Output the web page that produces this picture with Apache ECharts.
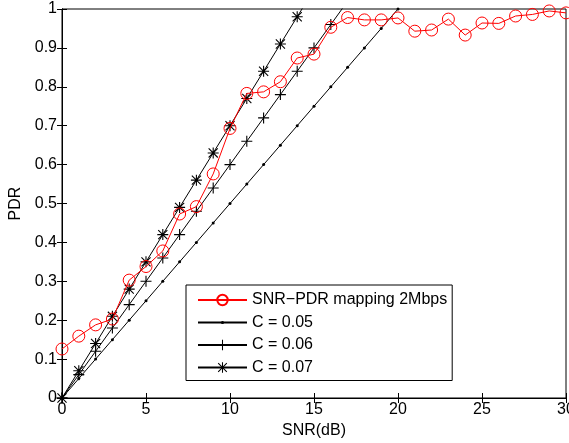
<!DOCTYPE html>
<html>
<head>
<meta charset="utf-8">
<script src="https://cdn.jsdelivr.net/npm/echarts@6/dist/echarts.min.js"></script>
<style>
	html, body { margin: 0; padding: 0; background: #fff; }
	#chart { width: 569px; height: 443px; }
</style>
</head>
<body>
<div id="chart"></div>
<script>
// SNR (dB) at which each point is measured
const snr = [0, 1, 2, 3, 4, 5, 6, 7, 8, 9, 10, 11, 12, 13, 14, 15, 16, 17, 18, 19, 20,
	21, 22, 23, 24, 25, 26, 27, 28, 29, 30]
// measured SNR-PDR mapping, 2Mbps
const pdrMeasured = [0.126, 0.159, 0.188, 0.203, 0.303, 0.338, 0.378, 0.473, 0.492, 0.576, 0.693,
	0.783, 0.787, 0.813, 0.874, 0.884, 0.953, 0.978, 0.972, 0.972, 0.977,
	0.943, 0.946, 0.974, 0.933, 0.964, 0.963, 0.982, 0.986, 0.995, 0.99]
// linear models, PDR = C * SNR (clipped by the axis at 1)
const pdrC005 = [0, 0.05, 0.10, 0.15, 0.20, 0.25, 0.30, 0.35, 0.40, 0.45, 0.50,
	0.55, 0.60, 0.65, 0.70, 0.75, 0.80, 0.85, 0.90, 0.95, 1.00]
const pdrC006 = [0, 0.06, 0.12, 0.18, 0.24, 0.30, 0.36, 0.42, 0.48, 0.54, 0.60,
	0.66, 0.72, 0.78, 0.84, 0.90, 0.96, 1.02]
const pdrC007 = [0, 0.07, 0.14, 0.21, 0.28, 0.35, 0.42, 0.49, 0.56, 0.63, 0.70,
	0.77, 0.84, 0.91, 0.98, 1.05]
const seriesNames = ['SNR\u2212PDR mapping 2Mbps', 'C = 0.05', 'C = 0.06', 'C = 0.07']

// small dot padded inside a 10x10 box so it keeps its size in the legend too
const dotSymbol = 'path://M0,0M10,10M3.5,5a1.5,1.5 0 1,0 3,0a1.5,1.5 0 1,0 -3,0z'
const plusSymbol = 'path://M0,4.5h10v1h-10zM4.5,0h1v10h-1z'
const starSymbol = 'path://M0,4.5h10v1h-10zM4.5,0h1v10h-1zM1.2,0.5L9.5,8.8L8.8,9.5L0.5,1.2zM8.8,0.5L9.5,1.2L1.2,9.5L0.5,8.8z'

const pairs = (ys) => ys.map((y, i) => [snr[i], y])
const font = 'Liberation Sans, Arial, sans-serif'

const myChart = echarts.init(document.getElementById('chart'), null, { renderer: 'canvas' })

const tickStyle = { inside: true, length: 5, lineStyle: { color: '#000', width: 1 } }

myChart.setOption({
	animation: false,
	backgroundColor: '#fff',
	grid: {
		left: 62,
		right: 3,
		top: 9,
		bottom: 45,
		containLabel: false,
		outerBoundsMode: 'none',
		show: true,
		borderColor: '#000',
		borderWidth: 1
	},
	legend: {
		orient: 'vertical',
		left: 186,
		top: 285,
		padding: [7, 5, 5, 11],
		itemWidth: 49,
		itemHeight: 13,
		itemGap: 6.5,
		borderColor: '#000',
		borderWidth: 1,
		borderRadius: 0,
		backgroundColor: '#fff',
		textStyle: { fontSize: 16, lineHeight: 16, fontFamily: font, color: '#000' },
		data: seriesNames
	},
	xAxis: [
		{
			type: 'value',
			min: 0,
			max: 30,
			interval: 5,
			name: 'SNR(dB)',
			nameLocation: 'middle',
			nameGap: 22,
			nameTextStyle: { fontSize: 16, fontFamily: font, color: '#000' },
			axisLine: { show: true, onZero: false, lineStyle: { color: '#000' } },
			axisTick: tickStyle,
			axisLabel: { fontSize: 16, fontFamily: font, color: '#000', margin: 4 },
			splitLine: { show: false }
		},
		{
			type: 'value',
			position: 'top',
			min: 0,
			max: 30,
			interval: 5,
			axisLine: { show: true, lineStyle: { color: '#000' } },
			axisTick: tickStyle,
			axisLabel: { show: false },
			splitLine: { show: false }
		}
	],
	yAxis: [
		{
			type: 'value',
			min: 0,
			max: 1,
			interval: 0.1,
			name: 'PDR',
			nameLocation: 'middle',
			nameGap: 28,
			nameTextStyle: { fontSize: 16, fontFamily: font, color: '#000' },
			axisLine: { show: true, onZero: false, lineStyle: { color: '#000' } },
			axisTick: tickStyle,
			axisLabel: { fontSize: 16, fontFamily: font, color: '#000', margin: 5 },
			splitLine: { show: false }
		},
		{
			type: 'value',
			position: 'right',
			min: 0,
			max: 1,
			interval: 0.1,
			axisLine: { show: true, lineStyle: { color: '#000' } },
			axisTick: tickStyle,
			axisLabel: { show: false },
			splitLine: { show: false }
		}
	],
	series: [
		{
			name: seriesNames[1],
			type: 'line',
			data: pairs(pdrC005),
			symbol: dotSymbol,
			symbolSize: 10,
			itemStyle: { color: '#000' },
			lineStyle: { color: '#000', width: 1 },
			z: 2
		},
		{
			name: seriesNames[2],
			type: 'line',
			data: pairs(pdrC006),
			symbol: plusSymbol,
			symbolSize: 11,
			itemStyle: { color: '#000' },
			lineStyle: { color: '#000', width: 1 },
			z: 2
		},
		{
			name: seriesNames[3],
			type: 'line',
			data: pairs(pdrC007),
			symbol: starSymbol,
			symbolSize: 11,
			itemStyle: { color: '#000' },
			lineStyle: { color: '#000', width: 1 },
			z: 2
		},
		{
			name: seriesNames[0],
			type: 'line',
			data: pairs(pdrMeasured),
			symbol: 'circle',
			symbolSize: 12,
			itemStyle: { color: 'rgba(255,255,255,0)', borderColor: '#ff0000', borderWidth: 1 },
			lineStyle: { color: '#ff0000', width: 1 },
			z: 3
		}
	]
})
window.addEventListener('resize', function() {
	myChart.resize()
})
</script>
</body>
</html>
